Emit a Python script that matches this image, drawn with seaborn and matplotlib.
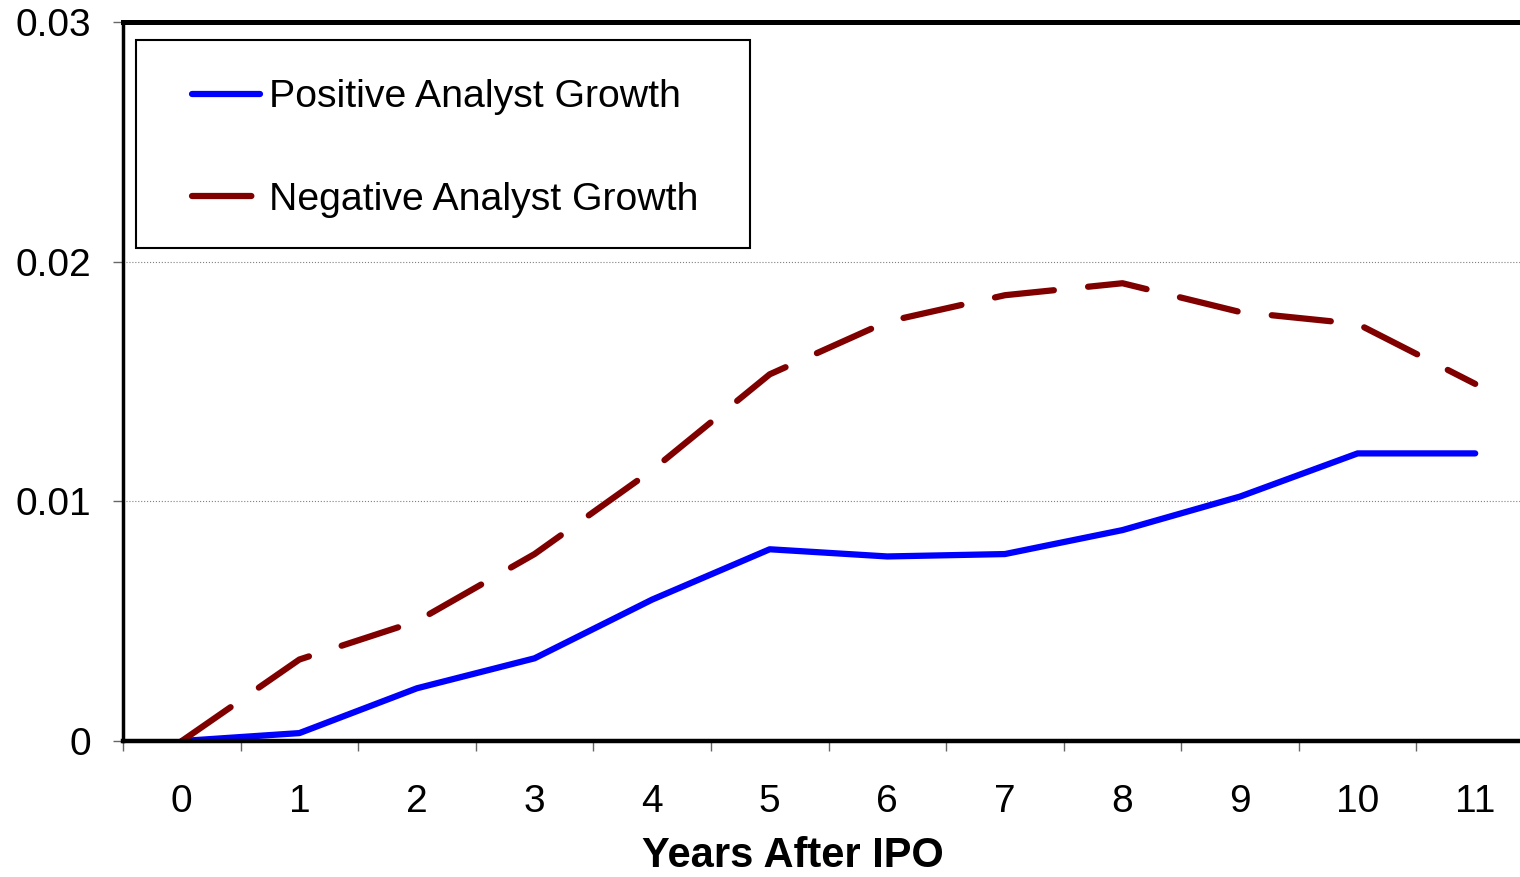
import pandas as pd
import matplotlib.pyplot as plt
import matplotlib.patches as mpatches
import seaborn as sns

years = list(range(12))
positive = [0.0, 0.00033, 0.0022, 0.00345, 0.0059, 0.0080, 0.0077, 0.0078, 0.0088, 0.0102, 0.0120, 0.0120]
negative = [0.0, 0.0034, 0.0050, 0.0078, 0.0113, 0.0153, 0.0175, 0.0186, 0.0191, 0.0179, 0.0174, 0.0149]
series_names = ['Positive Analyst Growth', 'Negative Analyst Growth']
y_ticks = [0, 0.01, 0.02, 0.03]
y_tick_labels = ['0', '0.01', '0.02', '0.03']

df = pd.concat([
    pd.DataFrame({'year': years, 'value': positive, 'series': series_names[0]}),
    pd.DataFrame({'year': years, 'value': negative, 'series': series_names[1]}),
])

sns.set_style('white')
plt.rcParams['font.family'] = ['Liberation Sans', 'DejaVu Sans']
plt.rcParams['text.color'] = 'black'
plt.rcParams['xtick.color'] = 'black'
plt.rcParams['ytick.color'] = 'black'
plt.rcParams['axes.labelcolor'] = 'black'

fig = plt.figure(figsize=(15.2, 8.77), dpi=100)
ax = fig.add_axes([123 / 1520, 136 / 877, 1411 / 1520, 719 / 877])

sns.lineplot(
    df, x='year', y='value', hue='series', style='series',
    hue_order=series_names, style_order=series_names,
    palette={series_names[0]: '#0000FF', series_names[1]: '#800000'},
    dashes={series_names[0]: '', series_names[1]: (9.5, 5.5)},
    ax=ax,
)
for line in ax.lines:
    line.set_linewidth(4.5)
    line.set_solid_capstyle('round')
    line.set_dash_capstyle('round')

ax.set_xlim(-0.5, 11.5)
ax.set_ylim(0, 0.03)
ax.set_yticks(y_ticks)
ax.set_yticklabels(y_tick_labels)
ax.set_xticks(years)
ax.set_xticklabels([str(y) for y in years])
ax.set_xticks([y - 0.5 for y in years] + [11.5], minor=True)
ax.tick_params(axis='x', which='major', length=0, pad=31, labelsize=28, labelcolor='black')
ax.tick_params(axis='x', which='minor', length=7, width=1, color='#666666', direction='out', bottom=True)
ax.tick_params(axis='y', length=7, width=1, color='#666666', direction='out', left=True, pad=16,
               labelsize=28, labelcolor='black')

ax.set_axisbelow(True)
ax.yaxis.grid(True, linestyle=':', color='#808080', linewidth=0.8)
ax.xaxis.grid(False)

ax.spines['top'].set_linewidth(3.6)
ax.spines['left'].set_linewidth(2.5)
ax.spines['bottom'].set_linewidth(3.2)
for side in ['top', 'left', 'bottom']:
    ax.spines[side].set_color('black')
ax.spines['right'].set_visible(False)

ax.set_ylabel(None)
ax.set_xlabel('Years After IPO', fontsize=30, fontweight='bold', va='center', color='black')
ax.xaxis.set_label_coords((793 - 123) / 1411, (741 - 856) / 719)

handles, labels = ax.get_legend_handles_labels()
for h in handles:
    h.set_linewidth(4.5)
    h.set_solid_capstyle('round')
    h.set_dash_capstyle('round')
ax.legend(
    handles, labels, loc='center left',
    bbox_to_anchor=(192 / 1520, 1 - 148.5 / 877), bbox_transform=fig.transFigure,
    frameon=False, borderpad=0, borderaxespad=0, fontsize=28.3, handlelength=1.72,
    handletextpad=0.25, labelspacing=1.68, labelcolor='black',
)
fig.patches.append(mpatches.Rectangle(
    (136 / 1520, 1 - 248 / 877), 614 / 1520, 208 / 877,
    transform=fig.transFigure, fill=False, edgecolor='black', linewidth=1.5,
))

plt.savefig('out.png', dpi=100)
